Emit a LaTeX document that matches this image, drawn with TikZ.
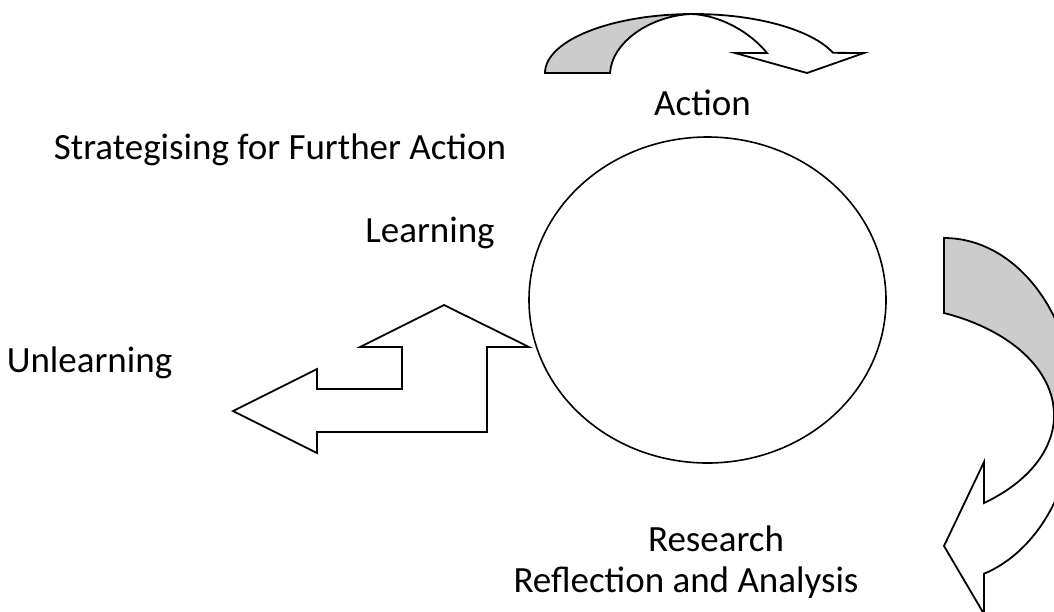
\documentclass[tikz,border=0pt]{standalone}
\usepackage{fontspec}
\setmainfont{Carlito}
\usetikzlibrary{shapes.geometric}

\begin{document}
\begin{tikzpicture}
  [x=1pt,y=-1pt,
   tag/.style={font=\fontsize{37}{40}\selectfont,anchor=base,inner sep=0pt},
   ring/.style={ellipse,draw,line width=1.6pt,minimum width=357pt,minimum height=326pt,inner sep=0pt},
   front face/.style={draw,fill=white,line width=1.8pt,line join=miter},
   back face/.style={draw,fill=black!20,line width=1.8pt,line join=miter}]
  \useasboundingbox (0,0) rectangle (1054,611);
  \clip (0,0) rectangle (1054,611);

  \node[ring] (loop) at (707.5,300) {};

  % bent arrow, left
  \draw[front face] (444,305) -- (529,347) -- (487,347) -- (487,432) -- (317,432)
    -- (317,453) -- (233,411) -- (317,369) -- (317,389) -- (402,389)
    -- (402,347) -- (360,347) -- cycle;

  % curved arrow, top
  \draw[back face] (545,73) arc[start angle=180,end angle=270,x radius=148.5,y radius=59]
    -- (691,14) .. controls (650,16) and (612,42) .. (610,73) -- cycle;
  \draw[front face] (693.5,14) arc[start angle=-90,end angle=-20,x radius=148.5,y radius=59]
    -- (864,53) -- (807,73) -- (735,53) -- (767,53)
    .. controls (750,32) and (720,15) .. (691,14) -- cycle;

  % curved arrow, right
  \draw[back face] (944,238) arc[start angle=-90,end angle=0,x radius=131,y radius=172]
    -- (1054,415) arc[start angle=0,end angle=-68,x radius=176,y radius=110] -- cycle;
  \draw[front face] (1075,410) arc[start angle=0,end angle=72.2,x radius=131,y radius=172]
    -- (984,614) -- (944,546) -- (984,462) -- (984,503)
    arc[start angle=53,end angle=0,x radius=176,y radius=110] -- cycle;

  \node[tag] (action) at (702.5,115) {Action};
  \node[tag] (strategy) at (280,159) {Strategising for Further Action};
  \node[tag] (learn) at (430,242) {Learning};
  \node[tag] (unlearn) at (89.5,372) {Unlearning};
  \node[tag] (research) at (716,551) {Research};
  \node[tag] (reflect) at (686,592) {Reflection and Analysis};
\end{tikzpicture}
\end{document}
